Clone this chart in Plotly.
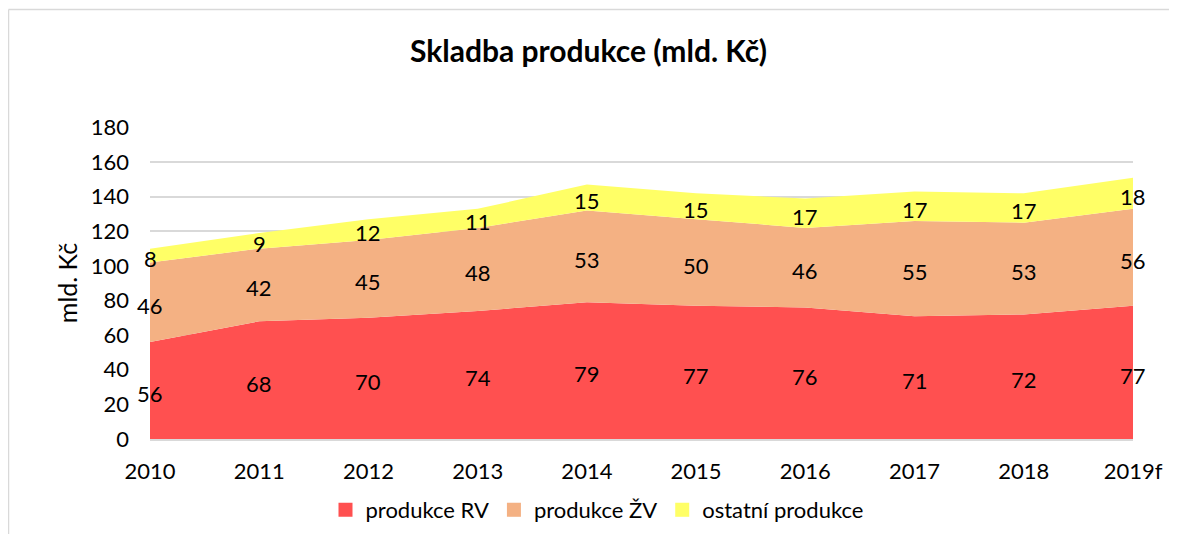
import plotly.graph_objects as go

years = ["2010", "2011", "2012", "2013", "2014", "2015", "2016", "2017", "2018", "2019f"]
produkce_rv = [56, 68, 70, 74, 79, 77, 76, 71, 72, 77]
produkce_zv = [46, 42, 45, 48, 53, 50, 46, 55, 53, 56]
ostatni = [8, 9, 12, 11, 15, 15, 17, 17, 17, 18]

names = ["produkce RV", "produkce ŽV", "ostatní produkce"]
colors = ["#FF5050", "#F4B183", "#FFFF66"]
series = [produkce_rv, produkce_zv, ostatni]

FONT = "Lato"
fig = go.Figure()
for name, col, vals in zip(names, colors, series):
    fig.add_trace(go.Scatter(
        x=years, y=vals, name=name, stackgroup="one", mode="none",
        fillcolor=col, line=dict(width=0), hoverinfo="x+y+name", showlegend=False,
    ))

# data labels centred in each band (x given as category index)
annotations = []
base = [0] * len(years)
for vals in series:
    for i, (b, v) in enumerate(zip(base, vals)):
        annotations.append(dict(
            x=i, y=b + v / 2, xref="x", yref="y", text=str(v), showarrow=False,
            xanchor="center", yanchor="middle", yshift=-3,
            font=dict(family=FONT, size=22, color="#000000"),
        ))
    base = [b + v for b, v in zip(base, vals)]

# legend entries as small squares
for name, col in zip(names, colors):
    fig.add_trace(go.Scatter(
        x=[None], y=[None], name=name, mode="markers",
        marker=dict(symbol="square", size=14, color=col), showlegend=True,
    ))

# page has an 8px body margin; figure is placed at (8, 8)
OFF = 8
L, R, T, B = 142, 36, 119, 95
W, H = 1161, 526
pw, ph = W - L - R, H - T - B

def px(x):
    return (x - OFF - L) / pw

def py(y):
    return (H - B - (y - OFF)) / ph

fig.update_layout(
    width=W, height=H,
    margin=dict(l=L, r=R, t=T, b=B, autoexpand=False),
    paper_bgcolor="white", plot_bgcolor="white",
    font=dict(family=FONT, color="#000000"),
    title=dict(text="<b>Skladba produkce (mld. Kč)</b>", x=0.5, xanchor="center",
               y=1 - (51 - OFF) / H, yanchor="middle", font=dict(size=30, family=FONT)),
    xaxis=dict(type="category", range=[0, len(years) - 1], showgrid=False,
               showline=True, linecolor="#D9D9D9", linewidth=1.5, ticks="",
               tickfont=dict(size=22, family=FONT), ticklabelstandoff=12),
    yaxis=dict(range=[0, 180.3], tickvals=list(range(0, 181, 20)), showgrid=True,
               gridcolor="#D9D9D9", gridwidth=1.5, zeroline=False, ticks="",
               tickfont=dict(size=22, family=FONT), ticklabelstandoff=20,
               title=dict(text="mld. Kč", font=dict(size=25, family=FONT), standoff=5)),
    legend=dict(orientation="h", x=px(597), xanchor="center", y=py(510), yanchor="middle",
                font=dict(size=22, family=FONT), traceorder="normal"),
    annotations=annotations,
    shapes=[
        dict(type="line", xref="paper", yref="paper",
             x0=px(8.5), x1=px(1177), y0=py(9.5), y1=py(9.5),
             line=dict(color="#D9D9D9", width=1.5), layer="below"),
        dict(type="line", xref="paper", yref="paper",
             x0=px(8.5), x1=px(8.5), y0=py(9.5), y1=py(560),
             line=dict(color="#D9D9D9", width=1.5), layer="below"),
    ],
)

fig.write_html("out.html")
